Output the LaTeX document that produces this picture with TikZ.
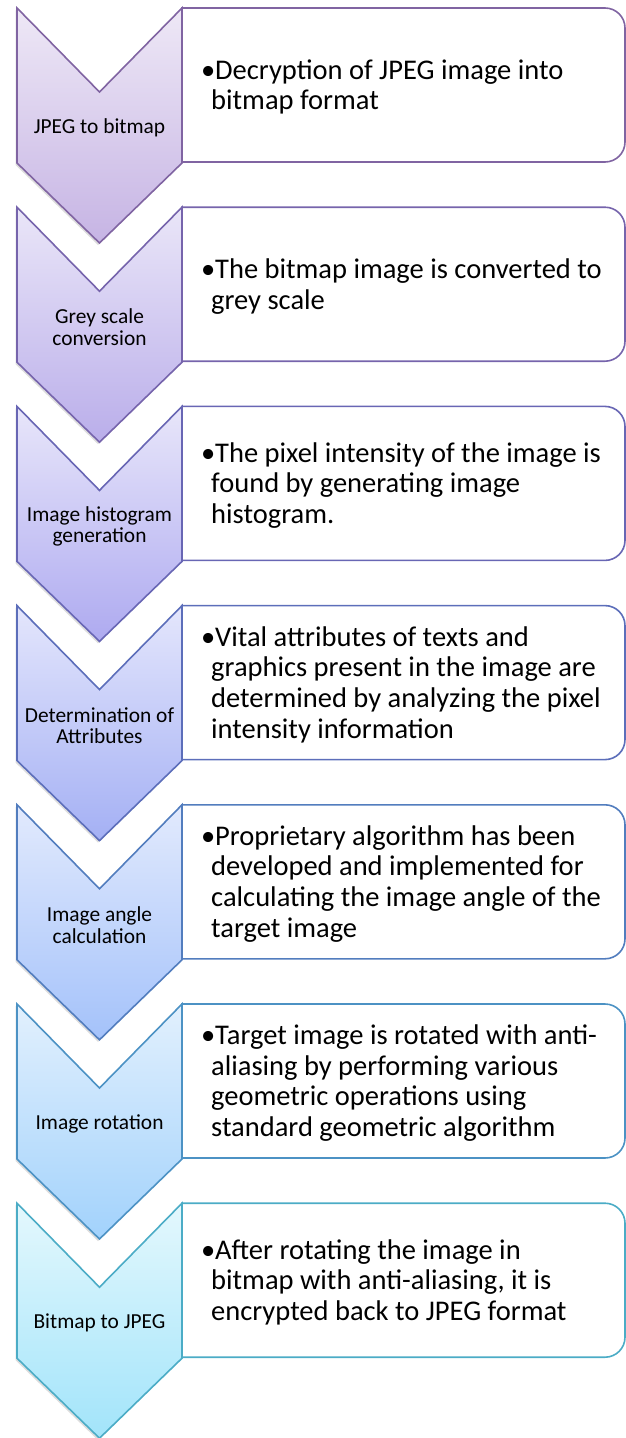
\documentclass[tikz,border=0pt]{standalone}
\usepackage{fontspec}
\setmainfont{Carlito}
\usetikzlibrary{shadows}
\definecolor{o1}{RGB}{128,100,162}
\definecolor{o2}{RGB}{118,100,172}
\definecolor{o3}{RGB}{104,102,180}
\definecolor{o4}{RGB}{92,110,186}
\definecolor{o5}{RGB}{82,125,190}
\definecolor{o6}{RGB}{76,146,196}
\definecolor{o7}{RGB}{75,172,198}
\definecolor{t1}{RGB}{238,232,246}
\definecolor{t2}{RGB}{234,230,248}
\definecolor{t3}{RGB}{232,230,250}
\definecolor{t4}{RGB}{228,230,252}
\definecolor{t5}{RGB}{226,234,253}
\definecolor{t6}{RGB}{226,240,253}
\definecolor{t7}{RGB}{228,248,253}
\definecolor{b1}{RGB}{198,180,228}
\definecolor{b2}{RGB}{186,174,234}
\definecolor{b3}{RGB}{174,170,240}
\definecolor{b4}{RGB}{164,176,244}
\definecolor{b5}{RGB}{164,194,250}
\definecolor{b6}{RGB}{162,210,252}
\definecolor{b7}{RGB}{162,228,250}
\tikzset{
  lab/.style={align=center, inner sep=0pt, font=\fontsize{21.4}{21.8}\selectfont},
  desc/.style={align=left, inner sep=0pt, anchor=west, font=\fontsize{28.5}{30.7}\selectfont},
  boxline/.style={line width=1.6pt, fill=white},
  chevline/.style={line width=1.6pt, line join=miter,
    drop shadow={shadow xshift=-1.5pt, shadow yshift=-2pt, opacity=0.22, fill=black!60}}
}
\newcommand\mkstage[4]{%
  \pgfmathsetmacro\yy{8+199.2*(#1-1)}%
  \path[boxline, draw=o#1] (182,\yy) -- (605,\yy)
     arc[start angle=-90, end angle=0, radius=20] -- (625,\yy+134)
     arc[start angle=0, end angle=90, radius=20] -- (182,\yy+154) -- cycle;
  \path[chevline, draw=o#1, top color=t#1, bottom color=b#1]
     (17,\yy) -- (99.5,\yy+84) -- (182,\yy) -- (182,\yy+155)
     -- (99.5,\yy+235) -- (17,\yy+155) -- cycle;
  \node[lab] (c#1) at (99.5,\yy+120) {#3};
  \node[desc] (d#1) at (211,\yy+79) {#4};
}
\newcommand\bul{\hspace*{4pt}\llap{•}}
\begin{document}
\begin{tikzpicture}[x=1pt, y=-1pt]
\useasboundingbox (0,0) rectangle (626,1438);
\mkstage{1}{}{JPEG to bitmap}{\bul Decryption of JPEG image into\\bitmap format}
\mkstage{2}{}{Grey scale\\conversion}{\bul The bitmap image is converted to\\grey scale}
\mkstage{3}{}{Image histogram\\generation}{\bul The pixel intensity of the image is\\found by generating image\\histogram.}
\mkstage{4}{}{Determination of\\Attributes}{\bul Vital attributes of texts and\\graphics present in the image are\\determined by analyzing the pixel\\intensity information}
\mkstage{5}{}{Image angle\\calculation}{\bul Proprietary algorithm has been\\developed and implemented for\\calculating the image angle of the\\target image}
\mkstage{6}{}{Image rotation}{\bul Target image is rotated with anti-\\aliasing by performing various\\geometric operations using\\standard geometric algorithm}
\mkstage{7}{}{Bitmap to JPEG}{\bul After rotating the image in\\bitmap with anti-aliasing, it is\\encrypted back to JPEG format}
\end{tikzpicture}
\end{document}
